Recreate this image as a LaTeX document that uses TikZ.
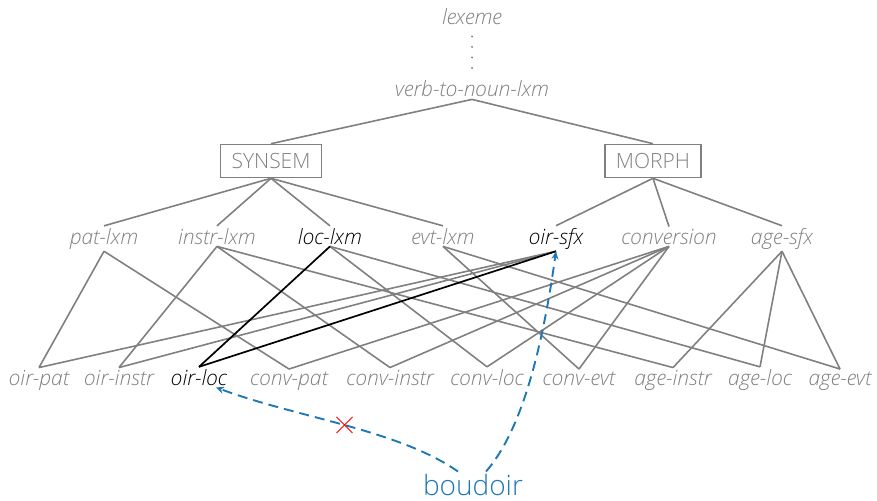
\documentclass[tikz,border=0pt]{standalone}
\usepackage{fontspec}
\setmainfont{Open Sans}[UprightFont=* Light, ItalicFont=* Light Italic]
\usetikzlibrary{arrows.meta,shapes.misc}
\definecolor{treegray}{RGB}{128,128,128}
\definecolor{tabblue}{RGB}{31,119,180}
\begin{document}
\begin{tikzpicture}[x=1pt,y=-1pt,
  lbl/.style={font=\fontsize{21}{25}\selectfont\itshape, text=treegray, inner sep=2pt, anchor=base},
  hotlbl/.style={lbl, text=black},
  featbox/.style={draw=treegray, line width=1.6pt, text=treegray,
    font=\fontsize{21}{25}\selectfont, minimum height=33pt, inner xsep=11pt, inner ysep=2pt},
  link/.style={draw=treegray, line width=1.6pt},
  hotlink/.style={draw=black, line width=1.7pt},
  cue/.style={draw=tabblue, line width=1.9pt, dash pattern=on 10pt off 6pt,
    -{Stealth[length=8pt,width=7pt]}},
  blocked/.style={draw=red, cross out, solid, minimum size=15pt, inner sep=0pt, line width=1pt}]
\useasboundingbox (0,0) rectangle (877,500);

% top of the hierarchy
\node[lbl] (lexeme) at (472,25) {lexeme};
\node[lbl] (vtn) at (472,97) {verb-to-noun-lxm};
\node[featbox] (synsem) at (271,161) {SYNSEM};
\node[featbox] (morph) at (653,161) {MORPH};

% intermediate types
\node[lbl] (patlxm) at (104,244) {pat-lxm};
\node[lbl] (instrlxm) at (217,244) {instr-lxm};
\node[hotlbl] (loclxm) at (330,244) {loc-lxm};
\node[lbl] (evtlxm) at (443,244) {evt-lxm};
\node[hotlbl] (oirsfx) at (556,244) {oir-sfx};
\node[lbl] (conversion) at (669,244) {conversion};
\node[lbl] (agesfx) at (782,244) {age-sfx};

% leaf types
\node[lbl] (oirpat) at (39,385) {oir-pat};
\node[lbl] (oirinstr) at (119,385) {oir-instr};
\node[hotlbl] (oirloc) at (199,385) {oir-loc};
\node[lbl] (convpat) at (289,385) {conv-pat};
\node[lbl] (convinstr) at (390,385) {conv-instr};
\node[lbl] (convloc) at (487,385) {conv-loc};
\node[lbl] (convevt) at (579,385) {conv-evt};
\node[lbl] (ageinstr) at (673,385) {age-instr};
\node[lbl] (ageloc) at (760,385) {age-loc};
\node[lbl] (ageevt) at (840,385) {age-evt};

% the word itself
\node[font=\fontsize{28}{33}\selectfont, text=tabblue, inner sep=2pt, anchor=base] (boudoir) at (473,495) {boudoir};

% dotted path from the root
\draw[treegray, line width=2.2pt, line cap=round, dash pattern=on 0pt off 10.5pt,
  shorten <=9pt, shorten >=2pt] (lexeme.south) -- (vtn.north);

% upper links
\draw[link] (vtn.south) -- (synsem.north);
\draw[link] (vtn.south) -- (morph.north);
\foreach \t in {patlxm,instrlxm,loclxm,evtlxm}
  \draw[link] (synsem.south) -- (\t.north);
\foreach \t in {oirsfx,conversion,agesfx}
  \draw[link] (morph.south) -- (\t.north);

% lower links
\foreach \a/\b in {patlxm/oirpat, patlxm/convpat,
                   instrlxm/oirinstr, instrlxm/convinstr, instrlxm/ageinstr,
                   loclxm/convloc, loclxm/ageloc,
                   evtlxm/convevt, evtlxm/ageevt,
                   oirsfx/oirpat, oirsfx/oirinstr,
                   conversion/convpat, conversion/convinstr, conversion/convloc, conversion/convevt,
                   agesfx/ageinstr, agesfx/ageloc, agesfx/ageevt}
  \draw[link] (\a.south) -- (\b.north);
\draw[hotlink] (loclxm.south) -- (oirloc.north);
\draw[hotlink] (oirsfx.south) -- (oirloc.north);

% lookup paths from the word
\draw[cue] ([xshift=-15pt]boudoir.north)
  .. controls +(-60,-42) and +(80,30) ..
  node[blocked, pos=0.5] (block) {}
  ([xshift=17pt]oirloc.south);
\draw[cue] ([xshift=13pt]boudoir.north)
  .. controls +(35,-40) and +(-14,100) .. (oirsfx.south);
\end{tikzpicture}
\end{document}
